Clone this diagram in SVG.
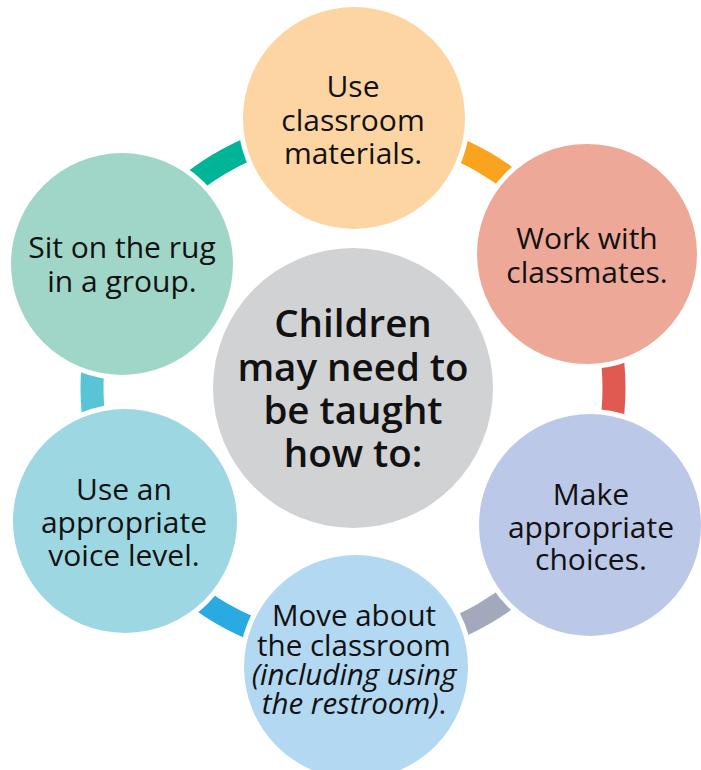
<svg xmlns="http://www.w3.org/2000/svg" width="701" height="770" viewBox="0 0 701 770">
<style>
.node circle{stroke:#fff;stroke-width:10;paint-order:stroke}
.t{font-family:"Open Sans","Noto Sans","Liberation Sans",sans-serif;font-size:30px;fill:#111;text-anchor:middle}
.s{font-size:29.5px}
.c{font-family:"Open Sans","Noto Sans","Liberation Sans",sans-serif;font-size:38.5px;font-weight:600;fill:#111;text-anchor:middle}
.conn path{fill:none;stroke-width:23}
</style>
<rect width="701" height="770" fill="#fff"/>
<g id="connectors" class="conn">
<path d="M150.2 223.8 A262 262 0 0 1 303.2 131.8" stroke="#00B597"/>
<path d="M398.3 131.0 A262 262 0 0 1 552.9 220.2" stroke="#F9A31F"/>
<path d="M598.3 298.7 A262 262 0 0 1 598.3 477.3" stroke="#E05A52"/>
<path d="M552.9 555.8 A262 262 0 0 1 398.3 645.0" stroke="#A2A9BC"/>
<path d="M307.7 645.0 A262 262 0 0 1 153.1 555.8" stroke="#29ABE2"/>
<path d="M107.7 477.3 A262 262 0 0 1 107.7 298.7" stroke="#58C4D6"/>
</g>
<g id="center" class="node">
<circle cx="353" cy="388" r="140" fill="#D1D2D4"/>
<text class="c" x="353" y="337">Children</text>
<text class="c" x="353" y="381">may need to</text>
<text class="c" x="353" y="424">be taught</text>
<text class="c" x="353" y="467">how to:</text>
</g>
<g id="n-materials" class="node">
<circle cx="354" cy="118" r="111" fill="#FDD5A3"/>
<text class="t" x="353" y="97">Use</text>
<text class="t" x="353" y="131">classroom</text>
<text class="t" x="353" y="164">materials.</text>
</g>
<g id="n-classmates" class="node">
<circle cx="587" cy="254" r="110" fill="#EDA898"/>
<text class="t" x="587" y="249">Work with</text>
<text class="t" x="587" y="283">classmates.</text>
</g>
<g id="n-choices" class="node">
<circle cx="590" cy="525" r="111" fill="#BCC8E8"/>
<text class="t" x="591" y="505">Make</text>
<text class="t" x="591" y="538">appropriate</text>
<text class="t" x="591" y="570">choices.</text>
</g>
<g id="n-move" class="node">
<circle cx="356" cy="667" r="112" fill="#B3D8F2"/>
<text class="t s" x="354" y="626">Move about</text>
<text class="t s" x="354" y="656">the classroom</text>
<text class="t s" x="354" y="685" font-style="italic">(including using</text>
<text class="t s" x="354" y="714"><tspan font-style="italic">the restroom)</tspan>.</text>
</g>
<g id="n-voice" class="node">
<circle cx="125" cy="521" r="112" fill="#9DD8E2"/>
<text class="t" x="124" y="500">Use an</text>
<text class="t" x="124" y="533">appropriate</text>
<text class="t" x="124" y="566">voice level.</text>
</g>
<g id="n-rug" class="node">
<circle cx="122" cy="264" r="111" fill="#A0D6C8"/>
<text class="t" x="122" y="258">Sit on the rug</text>
<text class="t" x="122" y="292">in a group.</text>
</g>
</svg>
